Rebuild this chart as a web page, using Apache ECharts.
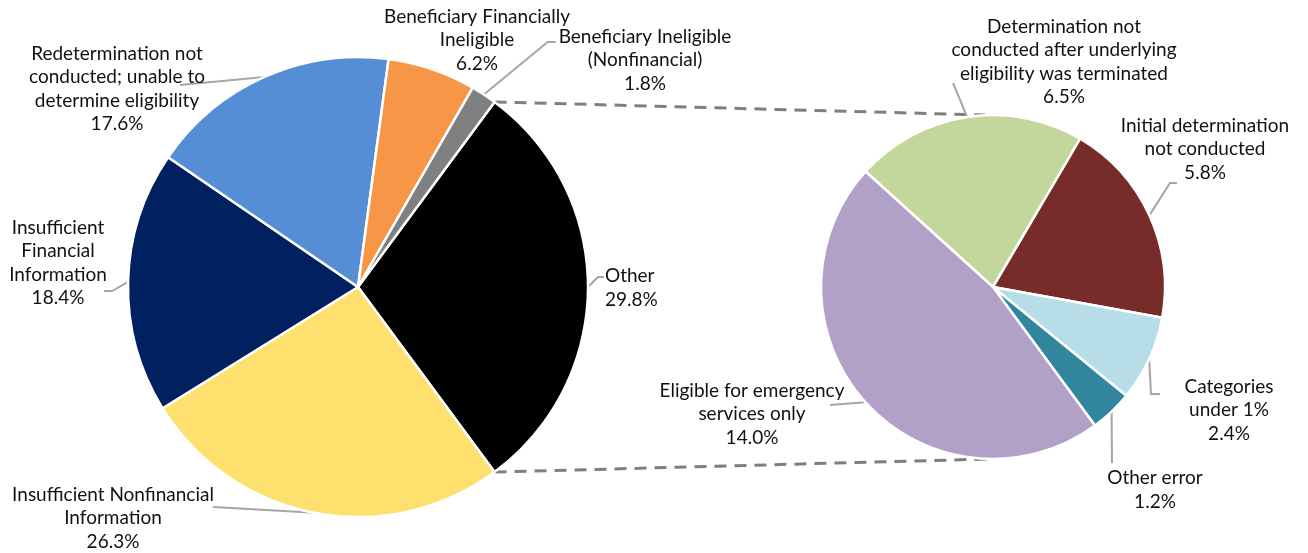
<!DOCTYPE html>
<html><head><meta charset="utf-8">
<script src="https://cdn.jsdelivr.net/npm/echarts@6.0.0/dist/echarts.min.js"></script>
<style>html,body{margin:0;padding:0;background:#fff}#c{width:1308px;height:553px}</style>
</head><body><div id="c"></div>
<script>
// ---- data ----
const mainNames = ['Other', 'Insufficient Nonfinancial\nInformation', 'Insufficient\nFinancial\nInformation', 'Redetermination not\nconducted; unable to\ndetermine eligibility', 'Beneficiary Financially\nIneligible', 'Beneficiary Ineligible\n(Nonfinancial)'];
const mainValues = [29.8, 26.3, 18.4, 17.6, 6.2, 1.8];
const subNames = ['Determination not\nconducted after underlying\neligibility was terminated', 'Initial determination\nnot conducted', 'Categories\nunder 1%', 'Other error', 'Eligible for emergency\nservices only'];
const subValues = [6.5, 5.8, 2.4, 1.2, 14.0];

// ---- styles / layout ----
const mainColors = ['#000000', '#FEE06E', '#00205F', '#558ED5', '#F79646', '#808080'];
const subColors = ['#C3D69B', '#772C2A', '#B7DEE8', '#31859C', '#B2A1C7'];
const L = {cx: 358, cy: 287, r: 230};
const R = {cx: 993, cy: 287, r: 172};
const sum = a => a.reduce((s, v) => s + v, 0);
const mainStartAngle = mainValues[0] / sum(mainValues) * 180; // center "Other" at 3 o'clock
const subStartAngle = 137.8;
const FONT = 'Lato';
const textColor = '#111111';

const mainLabelPos = [
  {x: 605, y: 288, align: 'left', tail: [[598, 277], [604, 277]]},
  {x: 113, y: 518, tail: [[213, 507]]},
  {x: 58, y: 263, tail: [[112, 291], [104, 291]]},
  {x: 117, y: 89, tail: [[180, 85]]},
  {x: 477, y: 40, tail: null},
  {x: 645, y: 60, tail: 'leftEdge', ty: 42}
];
const subLabelPos = [
  {x: 1064, y: 62, tail: [[953, 83]]},
  {x: 1205, y: 149, tail: [[1170, 183], [1177, 183]]},
  {x: 1229, y: 410, tail: [[1151, 394], [1160, 394]]},
  {x: 1155, y: 490, tail: [[1112, 463]]},
  {x: 752, y: 414, tail: [[830, 405]]}
];

function midRim(values, startAngle, geo, i) {
  const tot = sum(values);
  let acc = 0;
  for (let k = 0; k < i; k++) acc += values[k];
  const mid = startAngle - (acc + values[i] / 2) / tot * 360;
  const rad = mid * Math.PI / 180;
  return [geo.cx + geo.r * Math.cos(rad), geo.cy - geo.r * Math.sin(rad)];
}
function rimAt(geo, deg) {
  const rad = deg * Math.PI / 180;
  return [geo.cx + geo.r * Math.cos(rad), geo.cy - geo.r * Math.sin(rad)];
}

function makeLayout(values, startAngle, geo, pos) {
  return function (p) {
    const c = pos[p.dataIndex];
    const out = {x: c.x, y: c.y, align: c.align || 'center', verticalAlign: 'middle'};
    if (c.tail) {
      const s = midRim(values, startAngle, geo, p.dataIndex);
      let tail = c.tail;
      if (tail === 'leftEdge') {
        const left = c.x - p.labelRect.width / 2;
        tail = [[left - 11, c.ty], [left - 3, c.ty]];
      }
      const pts = [s].concat(tail);
      while (pts.length < 3) pts.push(pts[pts.length - 1]);
      out.labelLinePoints = pts;
    }
    return out;
  };
}

const labelFmt = p => p.name + '\n' + p.value.toFixed(1) + '%';
const labelStyle = {
  show: true, position: 'outside', formatter: labelFmt,
  fontFamily: FONT, fontSize: 19, lineHeight: 23.5, color: textColor, align: 'center'
};

const mainData = mainNames.map((n, i) => ({
  name: n, value: mainValues[i], itemStyle: {color: mainColors[i]},
  labelLine: {show: mainLabelPos[i].tail !== null}
}));
const subData = subNames.map((n, i) => ({
  name: n, value: subValues[i], itemStyle: {color: subColors[i]}
}));

const otherHalf = mainValues[0] / sum(mainValues) * 180;
const pTop = rimAt(L, otherHalf);
const pBot = rimAt(L, -otherHalf);
const dashStyle = {stroke: '#7F7F7F', lineWidth: 3, lineDash: [12, 8]};

const chart = echarts.init(document.getElementById('c'), null, {renderer: 'canvas'});
chart.setOption({
  animation: false,
  backgroundColor: '#ffffff',
  series: [
    {
      type: 'pie', center: [L.cx, L.cy], radius: L.r, startAngle: mainStartAngle, clockwise: true,
      avoidLabelOverlap: false, data: mainData,
      itemStyle: {borderColor: '#ffffff', borderWidth: 2.5},
      label: labelStyle,
      labelLine: {show: true, lineStyle: {color: '#A6A6A6', width: 2}},
      labelLayout: makeLayout(mainValues, mainStartAngle, L, mainLabelPos),
      emphasis: {disabled: true}
    },
    {
      type: 'pie', center: [R.cx, R.cy], radius: R.r, startAngle: subStartAngle, clockwise: true,
      avoidLabelOverlap: false, data: subData,
      itemStyle: {borderColor: '#ffffff', borderWidth: 2.5},
      label: labelStyle,
      labelLine: {show: true, lineStyle: {color: '#A6A6A6', width: 2}},
      labelLayout: makeLayout(subValues, subStartAngle, R, subLabelPos),
      emphasis: {disabled: true}
    }
  ],
  graphic: [
    {type: 'line', shape: {x1: pTop[0], y1: pTop[1], x2: R.cx - 8, y2: R.cy - R.r}, style: dashStyle, z: 0},
    {type: 'line', shape: {x1: pBot[0], y1: pBot[1], x2: R.cx - 4, y2: R.cy + R.r}, style: dashStyle, z: 0}
  ]
});
</script>
</body></html>
